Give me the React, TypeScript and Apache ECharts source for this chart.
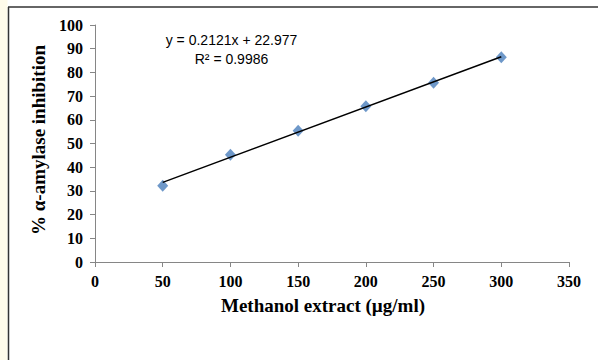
import React, { useEffect, useRef } from "react";
import * as echarts from "echarts";

const concentrations = [50, 100, 150, 200, 250, 300];
const inhibition = [32.2, 45.3, 55.4, 65.7, 75.6, 86.4];
const slope = 0.2121;
const intercept = 22.977;
const rSquared = "0.9986";
const xTitle = "Methanol extract (µg/ml)";
const yTitle = "% α-amylase inhibition";

export default function App() {
  const ref = useRef<HTMLDivElement>(null);
  useEffect(() => {
    if (!ref.current) return;
    const chart = echarts.init(ref.current, null, { renderer: "svg" });
    const x0 = concentrations[0];
    const x1 = concentrations[concentrations.length - 1];
    const trend = [
      [x0, slope * x0 + intercept],
      [x1, slope * x1 + intercept],
    ];
    const serif = "'Liberation Serif', 'Times New Roman', serif";
    chart.setOption({
      animation: false,
      backgroundColor: "#ffffff",
      grid: { left: 95, right: 29, top: 25, bottom: 98 },
      xAxis: {
        type: "value",
        min: 0,
        max: 350,
        interval: 50,
        axisLine: { show: true, lineStyle: { color: "#868686", width: 1 } },
        axisTick: { show: true, length: 5, lineStyle: { color: "#868686" } },
        splitLine: { show: false },
        axisLabel: {
          margin: 11,
          color: "#000",
          fontFamily: serif,
          fontWeight: "bold",
          fontSize: 16,
        },
      },
      yAxis: {
        type: "value",
        min: 0,
        max: 100,
        interval: 10,
        axisLine: { show: true, lineStyle: { color: "#868686", width: 1 } },
        axisTick: { show: true, length: 5, lineStyle: { color: "#868686" } },
        splitLine: { show: false },
        axisLabel: {
          margin: 12,
          color: "#000",
          fontFamily: serif,
          fontWeight: "bold",
          fontSize: 16,
        },
      },
      series: [
        {
          type: "scatter",
          data: concentrations.map((c, i) => [c, inhibition[i]]),
          symbol: "diamond",
          symbolSize: [11, 12],
          itemStyle: { color: "#4a7ebb" },
          z: 2,
        },
        {
          type: "line",
          data: trend,
          symbol: "none",
          lineStyle: { color: "#000", width: 1.5 },
          z: 3,
        },
      ],
      graphic: [
        { type: "rect", shape: { x: 0, y: 0, width: 7.5, height: 360 }, style: { fill: "#fffbea" } },
        { type: "line", shape: { x1: 8.5, y1: 7, x2: 8.5, y2: 360 }, style: { stroke: "#333", lineWidth: 1.5 } },
        { type: "line", shape: { x1: 8, y1: 7, x2: 598, y2: 7 }, style: { stroke: "#333", lineWidth: 1.5 } },
        {
          type: "text",
          x: 231.5,
          y: 40,
          style: {
            text: `y = ${slope}x + ${intercept}`,
            fontFamily: "'Liberation Sans', Arial, sans-serif",
            fontSize: 14,
            fill: "#000",
            align: "center",
            verticalAlign: "middle",
          },
        },
        {
          type: "text",
          x: 231.5,
          y: 58.5,
          style: {
            text: `R² = ${rSquared}`,
            fontFamily: "'Liberation Sans', Arial, sans-serif",
            fontSize: 14,
            fill: "#000",
            align: "center",
            verticalAlign: "middle",
          },
        },
        {
          type: "text",
          x: 323,
          y: 305,
          style: {
            text: xTitle,
            fontFamily: serif,
            fontWeight: "bold",
            fontSize: 19,
            fill: "#000",
            align: "center",
            verticalAlign: "middle",
          },
        },
        {
          type: "text",
          x: 38,
          y: 140,
          rotation: Math.PI / 2,
          style: {
            text: yTitle,
            fontFamily: serif,
            fontWeight: "bold",
            fontSize: 19,
            fill: "#000",
            align: "center",
            verticalAlign: "middle",
          },
        },
      ],
    });
    return () => chart.dispose();
  }, []);
  return (
    <div
      ref={ref}
      style={{ position: "absolute", left: 0, top: 0, width: 598, height: 360 }}
    />
  );
}
